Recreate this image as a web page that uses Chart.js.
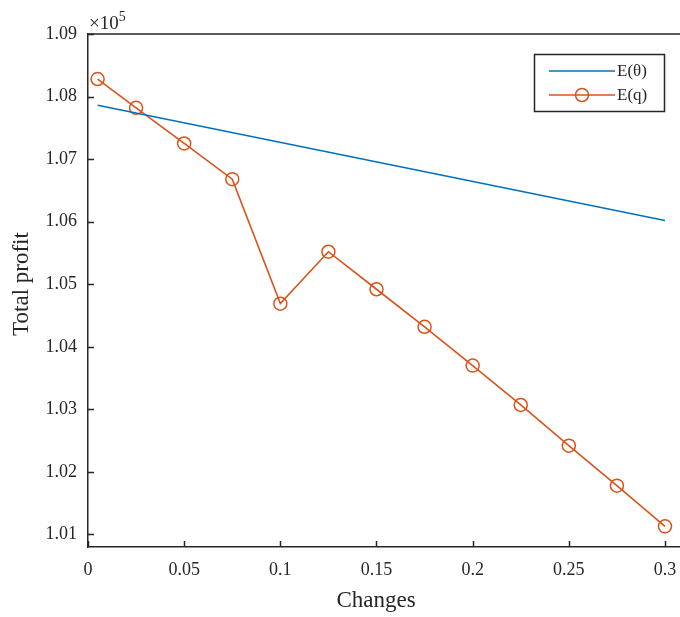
<!DOCTYPE html>
<html><head><meta charset="utf-8">
<script src="https://cdn.jsdelivr.net/npm/chart.js@4"></script>
<style>html,body{margin:0;padding:0;background:#fff;overflow:hidden}#wrap{width:680px;height:617px;overflow:hidden}</style>
</head><body><div id="wrap"><canvas id="c" width="700" height="617"></canvas></div>
<script>
// ---- data ----
const changes = [0.005, 0.025, 0.05, 0.075, 0.1, 0.125, 0.15, 0.175, 0.2, 0.225, 0.25, 0.275, 0.3];
const eqProfit = [108280, 107820, 107250, 106680, 104690, 105520, 104920, 104320, 103700, 103070, 102420, 101780, 101130];
const thetaChanges = [0.005, 0.3];
const eThetaProfit = [107860, 106020];
const xTicks = [0, 0.05, 0.1, 0.15, 0.2, 0.25, 0.3];
const yTicks = [101000, 102000, 103000, 104000, 105000, 106000, 107000, 108000, 109000];
const seriesNames = ['E(\u03B8)', 'E(q)'];
const xTitle = 'Changes';
const yTitle = 'Total profit';

const AX = '#262626';
const BLUE = '#0072BD';
const ORANGE = '#D95319';
const SERIF = '"Liberation Serif", "Times New Roman", serif';

const decor = {
  id: 'decor',
  afterDraw(chart) {
    const ctx = chart.ctx, a = chart.chartArea;
    const xs = chart.scales.x, ys = chart.scales.y;
    ctx.save();
    ctx.strokeStyle = AX; ctx.lineWidth = 1.5;
    // top box line
    ctx.beginPath(); ctx.moveTo(a.left, a.top); ctx.lineTo(a.right, a.top); ctx.stroke();
    // inward ticks
    ctx.beginPath();
    xTicks.forEach(v => { const px = Math.round(xs.getPixelForValue(v)) + 0.5; ctx.moveTo(px, a.bottom); ctx.lineTo(px, a.bottom - 6); });
    yTicks.forEach(v => { const py = Math.round(ys.getPixelForValue(v)) + 0.5; ctx.moveTo(a.left, py); ctx.lineTo(a.left + 6, py); });
    ctx.stroke();
    // exponent label
    ctx.fillStyle = AX; ctx.textBaseline = 'alphabetic'; ctx.textAlign = 'left';
    ctx.font = '19px ' + SERIF;
    ctx.fillText('\u00D710', 89, 29);
    const w = ctx.measureText('\u00D710').width;
    ctx.font = '14px ' + SERIF;
    ctx.fillText('5', 89 + w, 21);
    // axis titles
    ctx.font = '23px ' + SERIF;
    ctx.textAlign = 'center';
    ctx.fillText(xTitle, 376, 607);
    ctx.save();
    ctx.translate(28, 284); ctx.rotate(-Math.PI / 2);
    ctx.fillText(yTitle, 0, 0);
    ctx.restore();
    // legend
    const lx = 534.5, ly = 54.5, lw = 130, lh = 57;
    ctx.fillStyle = '#fff'; ctx.fillRect(lx, ly, lw, lh);
    ctx.strokeStyle = AX; ctx.lineWidth = 1.5; ctx.strokeRect(lx, ly, lw, lh);
    ctx.lineWidth = 1.6;
    ctx.strokeStyle = BLUE; ctx.beginPath(); ctx.moveTo(549, 71); ctx.lineTo(615, 71); ctx.stroke();
    ctx.strokeStyle = ORANGE; ctx.beginPath(); ctx.moveTo(549, 95); ctx.lineTo(615, 95); ctx.stroke();
    ctx.lineWidth = 1.5;
    ctx.beginPath(); ctx.arc(582, 95, 6.5, 0, Math.PI * 2); ctx.stroke();
    ctx.fillStyle = AX; ctx.textAlign = 'left'; ctx.textBaseline = 'middle';
    ctx.font = '17px ' + SERIF;
    ctx.fillText(seriesNames[0], 617, 72);
    ctx.fillText(seriesNames[1], 617, 96);
    ctx.restore();
  }
};

new Chart(document.getElementById('c'), {
  type: 'line',
  data: {
    datasets: [
      {
        label: seriesNames[0],
        data: thetaChanges.map((x, i) => ({ x, y: eThetaProfit[i] })),
        borderColor: BLUE, borderWidth: 1.6, pointRadius: 0, fill: false, tension: 0
      },
      {
        label: seriesNames[1],
        data: changes.map((x, i) => ({ x, y: eqProfit[i] })),
        borderColor: ORANGE, borderWidth: 1.6, fill: false, tension: 0,
        pointStyle: 'circle', pointRadius: 6.5, pointBorderWidth: 1.5,
        pointBorderColor: ORANGE, pointBackgroundColor: 'rgba(0,0,0,0)'
      }
    ]
  },
  options: {
    responsive: false, animation: false, devicePixelRatio: 1,
    layout: { padding: { top: 34, right: 10, left: 0, bottom: 0 } },
    plugins: { legend: { display: false }, tooltip: { enabled: false } },
    scales: {
      x: {
        type: 'linear', min: 0, max: 0.313,
        afterBuildTicks: s => { s.ticks = xTicks.map(v => ({ value: v })); },
        afterFit: s => { s.height = 70; s.paddingRight = 0; s.paddingLeft = 0; },
        grid: { display: false, drawTicks: false },
        border: { display: true, color: AX, width: 1.5 },
        ticks: { color: AX, padding: 12, maxRotation: 0, autoSkip: false,
                 font: { family: SERIF, size: 18 }, callback: v => String(+Number(v).toFixed(2)) }
      },
      y: {
        type: 'linear', min: 100800, max: 109000,
        afterBuildTicks: s => { s.ticks = yTicks.map(v => ({ value: v })); },
        afterFit: s => { s.width = 88; },
        grid: { display: false, drawTicks: false },
        border: { display: true, color: AX, width: 1.5 },
        ticks: { color: AX, padding: 11, autoSkip: false,
                 font: { family: SERIF, size: 18 }, callback: v => (v / 1e5).toFixed(2) }
      }
    }
  },
  plugins: [decor]
});
</script>
</body></html>
